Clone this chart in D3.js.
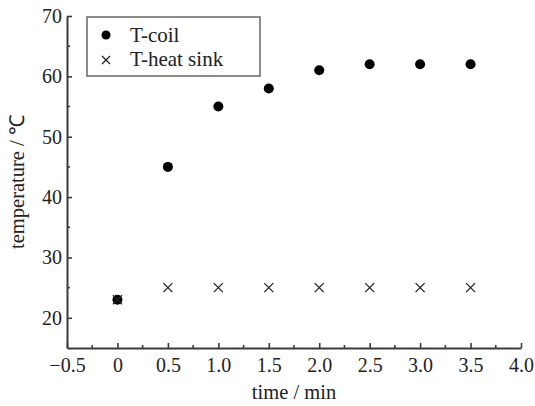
<!DOCTYPE html>
<html>
<head>
<meta charset="utf-8">
<script src="https://cdn.jsdelivr.net/npm/d3@7"></script>
<style>
  body { margin: 0; background: #fff; }
  svg text { font-family: "Liberation Serif", "Times New Roman", serif; fill: #222; }
</style>
</head>
<body>
<svg id="chart"></svg>
<script>
// data
var times = [0, 0.5, 1.0, 1.5, 2.0, 2.5, 3.0, 3.5];
var tCoil = [23, 45, 55, 58, 61, 62, 62, 62];
var tHeatSink = [23, 25, 25, 25, 25, 25, 25, 25];
var xTicks = [-0.5, 0, 0.5, 1.0, 1.5, 2.0, 2.5, 3.0, 3.5, 4.0];
var yTicks = [20, 30, 40, 50, 60, 70];
var seriesNames = ["T-coil", "T-heat sink"];

var width = 535, height = 406;
var margin = {top: 16, right: 14, bottom: 58, left: 67};
var serif = "Liberation Serif, Times New Roman, serif";

var svg = d3.select("#chart").attr("width", width).attr("height", height);

var x = d3.scaleLinear().domain([-0.5, 4.0]).range([margin.left, width - margin.right]);
var y = d3.scaleLinear().domain([15, 70]).range([height - margin.bottom, margin.top]);

var axisColor = "#3a3a3a";

// x axis (ticks point inward)
var xAxis = d3.axisBottom(x).tickValues(xTicks).tickSize(-5).tickSizeOuter(0).tickPadding(10)
  .tickFormat(function(d) { return d === 0 ? "0" : d3.format(".1f")(d).replace("-", "\u2212"); });
var gx = svg.append("g").attr("transform", "translate(0," + y(15) + ")").call(xAxis);
// minor ticks
gx.selectAll(".minor").data(d3.range(-0.25, 4.0, 0.5)).enter().append("line")
  .attr("x1", function(d) { return x(d); }).attr("x2", function(d) { return x(d); })
  .attr("y1", 0).attr("y2", -3);

var yAxis = d3.axisLeft(y).tickValues(yTicks).tickSize(-5).tickSizeOuter(0).tickPadding(5);
var gy = svg.append("g").attr("transform", "translate(" + x(-0.5) + ",0)").call(yAxis);
gy.selectAll(".minor").data([25, 35, 45, 55, 65]).enter().append("line")
  .attr("y1", function(d) { return y(d); }).attr("y2", function(d) { return y(d); })
  .attr("x1", 0).attr("x2", 3);

[gx, gy].forEach(function(g) {
  g.attr("font-family", serif).attr("font-size", 20);
  g.select(".domain").attr("stroke", axisColor).attr("stroke-width", 2);
  g.selectAll("line").attr("stroke", axisColor).attr("stroke-width", 1.6);
  g.selectAll(".tick text").attr("fill", "#222").attr("font-family", serif).attr("font-size", 20);
});

// axis titles
svg.append("text").attr("x", (x(-0.5) + x(4.0)) / 2).attr("y", 399)
  .attr("text-anchor", "middle").attr("font-size", 20.5).attr("font-family", serif).text("time / min");
svg.append("text")
  .attr("transform", "translate(24," + (y(15) + y(70)) / 2 + ") rotate(-90)")
  .attr("text-anchor", "middle").attr("font-size", 20.5).attr("font-family", serif).text("temperature / \u2103");

// series
var crossPath = function(cx, cy, s) {
  return "M" + (cx - s) + "," + (cy - s) + "L" + (cx + s) + "," + (cy + s) +
         "M" + (cx - s) + "," + (cy + s) + "L" + (cx + s) + "," + (cy - s);
};

svg.append("g").selectAll("circle").data(times).enter().append("circle")
  .attr("cx", function(d) { return x(d); })
  .attr("cy", function(d, i) { return y(tCoil[i]); })
  .attr("r", 5).attr("fill", "#000");

svg.append("g").selectAll("path").data(times).enter().append("path")
  .attr("d", function(d, i) { return crossPath(x(d), y(tHeatSink[i]), 4.5); })
  .attr("stroke", "#222").attr("stroke-width", 1.3).attr("fill", "none");

// legend
var lg = svg.append("g");
lg.append("rect").attr("x", 87).attr("y", 17).attr("width", 173).attr("height", 59)
  .attr("fill", "#fff").attr("stroke", "#666").attr("stroke-width", 1.5);
lg.append("circle").attr("cx", 106).attr("cy", 35).attr("r", 4.5).attr("fill", "#000");
lg.append("path").attr("d", crossPath(106, 60, 4)).attr("stroke", "#222").attr("stroke-width", 1.3);
lg.selectAll("text.lbl").data(seriesNames).enter().append("text")
  .attr("x", 130).attr("y", function(d, i) { return 42 + i * 24; })
  .attr("font-size", 21).attr("font-family", serif).text(function(d) { return d; });
</script>
</body>
</html>
